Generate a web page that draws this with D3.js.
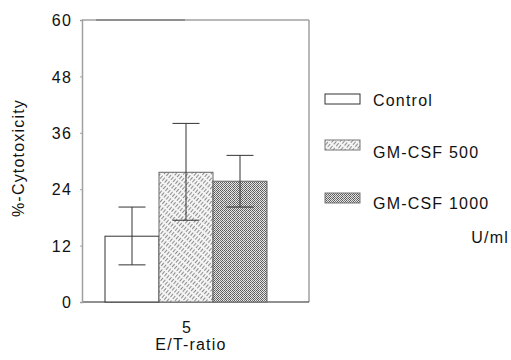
<!DOCTYPE html>
<html>
<head>
<meta charset="utf-8">
<script src="https://cdn.jsdelivr.net/npm/d3@7"></script>
<style>
  body { margin: 0; background: #fff; }
  text { font-family: "Liberation Sans", Arial, sans-serif; fill: #111; font-size: 16px; letter-spacing: 1.2px; }
</style>
</head>
<body>
<svg id="chart" width="511" height="360"></svg>
<script>
// data
const ratios = ["5"];
const series = ["Control", "GM-CSF 500", "GM-CSF 1000"];
const means = [14.0, 27.6, 25.7];
const errLow = [7.9, 17.4, 20.2];
const errHigh = [20.2, 38.0, 31.2];
const yTicks = [0, 12, 24, 36, 48, 60];

const svg = d3.select("#chart");
const plotL = 82, plotR = 309, plotT = 20, plotB = 302;

// patterns for the fills
const defs = svg.append("defs");
const hatch = defs.append("pattern")
  .attr("id", "hatch")
  .attr("patternUnits", "userSpaceOnUse")
  .attr("width", 3).attr("height", 6)
  .attr("patternTransform", "rotate(40)");
hatch.append("rect").attr("width", 3).attr("height", 6).attr("fill", "#f4f4f4");
hatch.append("line")
  .attr("x1", 0.5).attr("y1", 0).attr("x2", 0.5).attr("y2", 6)
  .attr("stroke", "#8c8c8c").attr("stroke-width", 1)
  .attr("stroke-dasharray", "4,2");

const dots = defs.append("pattern")
  .attr("id", "dots")
  .attr("patternUnits", "userSpaceOnUse")
  .attr("width", 4).attr("height", 4);
dots.append("rect").attr("width", 4).attr("height", 4).attr("fill", "#e6e6e6");
[[0, 0], [2, 0], [1, 1], [3, 1], [0, 2], [2, 2], [3, 3], [1, 3]].forEach(([px, py], k) => {
  dots.append("rect").attr("x", px).attr("y", py).attr("width", 1).attr("height", 1)
    .attr("fill", k % 3 === 0 ? "#777" : "#5a5a5a");
});

const fills = ["#fff", "url(#hatch)", "url(#dots)"];

const y = d3.scaleLinear().domain([0, 60]).range([plotB, plotT]);
const x0 = d3.scaleBand().domain(ratios).range([105, 267]).padding(0);
const x1 = d3.scaleBand().domain(series).range([0, x0.bandwidth()]).padding(0);

// frame
svg.append("line").attr("x1", plotL).attr("x2", plotR).attr("y1", plotT).attr("y2", plotT)
  .attr("stroke", "#a0a0a0").attr("stroke-width", 1.5);
svg.append("line").attr("x1", 96).attr("x2", 185).attr("y1", plotT).attr("y2", plotT)
  .attr("stroke", "#666").attr("stroke-width", 1.2);
svg.append("line").attr("x1", plotR).attr("x2", plotR).attr("y1", plotT).attr("y2", plotB)
  .attr("stroke", "#a0a0a0").attr("stroke-width", 1.5);
svg.append("line").attr("x1", plotL).attr("x2", plotR).attr("y1", plotB).attr("y2", plotB)
  .attr("stroke", "#222").attr("stroke-width", 1.2);

// y axis
const yAxis = svg.append("g")
  .attr("transform", `translate(${plotL},0)`)
  .call(d3.axisLeft(y).tickValues(yTicks).tickSize(2).tickPadding(8));
yAxis.select(".domain").attr("stroke", "#a0a0a0").attr("stroke-width", 1.5);
yAxis.selectAll(".tick line").attr("stroke", "#a0a0a0");
yAxis.selectAll(".tick text").attr("font-size", null).attr("font-family", null)
  .style("fill", "#111").attr("dy", "0.36em");

// bars
const rows = series.map((s, i) => ({ s, i, v: means[i], lo: errLow[i], hi: errHigh[i], r: ratios[0] }));
const g = svg.append("g");
g.selectAll("rect.bar").data(rows).enter().append("rect")
  .attr("class", "bar")
  .attr("x", d => x0(d.r) + x1(d.s))
  .attr("y", d => y(d.v))
  .attr("width", x1.bandwidth())
  .attr("height", d => y(0) - y(d.v))
  .attr("fill", d => fills[d.i])
  .attr("stroke", (d) => d.i === 0 ? "#333" : "#666")
  .attr("stroke-width", 1);

// error bars
const cap = 13.5;
const eb = g.selectAll("g.err").data(rows).enter().append("g").attr("class", "err")
  .attr("stroke", "#333").attr("stroke-width", 1);
eb.append("line")
  .attr("x1", d => x0(d.r) + x1(d.s) + x1.bandwidth() / 2)
  .attr("x2", d => x0(d.r) + x1(d.s) + x1.bandwidth() / 2)
  .attr("y1", d => y(d.lo)).attr("y2", d => y(d.hi));
["lo", "hi"].forEach(k => {
  eb.append("line")
    .attr("x1", d => x0(d.r) + x1(d.s) + x1.bandwidth() / 2 - cap)
    .attr("x2", d => x0(d.r) + x1(d.s) + x1.bandwidth() / 2 + cap)
    .attr("y1", d => y(d[k])).attr("y2", d => y(d[k]));
});

// x label
svg.append("text").attr("x", x0(ratios[0]) + x0.bandwidth() / 2 + 1).attr("y", 333)
  .attr("text-anchor", "middle").text(ratios[0]);
svg.append("text").attr("x", 191).attr("y", 350)
  .attr("text-anchor", "middle").text("E/T-ratio");

// y label
svg.append("text")
  .attr("transform", "translate(24,158) rotate(-90)")
  .attr("text-anchor", "middle").text("%-Cytotoxicity");

// legend
const boxTop = [94, 140, 193];
const textBase = [106, 158, 209];
const leg = svg.append("g");
series.forEach((s, i) => {
  leg.append("rect").attr("x", 325).attr("y", boxTop[i]).attr("width", 35).attr("height", 10)
    .attr("fill", fills[i]).attr("stroke", i === 0 ? "#333" : "#777").attr("stroke-width", 1);
  leg.append("text").attr("x", 373).attr("y", textBase[i]).text(s);
});
leg.append("text").attr("x", 509).attr("y", 243).attr("text-anchor", "end").text("U/ml");
</script>
</body>
</html>
